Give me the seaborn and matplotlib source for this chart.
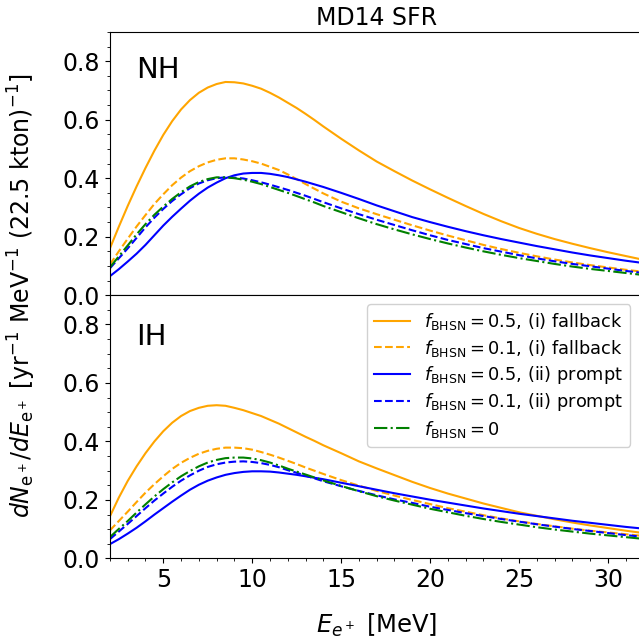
import seaborn as sns
import matplotlib.pyplot as plt
from matplotlib.ticker import AutoMinorLocator

# positron energy grid [MeV], finer around the peaks
energy = [2, 2.5, 3, 3.5, 4, 4.5, 5, 5.5, 6, 6.5, 7, 7.5, 8, 8.5, 9, 9.5, 10, 10.5, 11, 11.5, 12,
          12.5, 13, 13.5, 14, 15, 16, 17, 18, 19, 20, 21, 22, 23, 24, 25, 26, 27, 28, 29, 30, 31, 32]

# NH spectra
nh_fb05 = [0.160, 0.234, 0.305, 0.372, 0.435, 0.494, 0.548, 0.595, 0.635, 0.667, 0.692, 0.710, 0.722,
           0.729, 0.728, 0.724, 0.716, 0.706, 0.692, 0.676, 0.658, 0.640, 0.620, 0.599, 0.577,
           0.535, 0.495, 0.457, 0.424, 0.392, 0.362, 0.333, 0.305, 0.278, 0.253, 0.230, 0.210,
           0.192, 0.176, 0.161, 0.147, 0.134, 0.121]
nh_fb01 = [0.105, 0.150, 0.193, 0.235, 0.274, 0.312, 0.345, 0.376, 0.402, 0.424, 0.441, 0.454, 0.463,
           0.468, 0.468, 0.464, 0.458, 0.450, 0.439, 0.428, 0.413, 0.397, 0.380, 0.364, 0.348,
           0.320, 0.297, 0.277, 0.258, 0.239, 0.221, 0.204, 0.188, 0.172, 0.158, 0.145, 0.133,
           0.122, 0.112, 0.103, 0.095, 0.087, 0.080]
nh_pr05 = [0.065, 0.089, 0.115, 0.142, 0.172, 0.205, 0.238, 0.268, 0.296, 0.323, 0.347, 0.368, 0.385,
           0.400, 0.410, 0.416, 0.418, 0.418, 0.415, 0.410, 0.404, 0.396, 0.388, 0.379, 0.370,
           0.350, 0.329, 0.307, 0.287, 0.267, 0.250, 0.234, 0.219, 0.205, 0.192, 0.180, 0.168,
           0.157, 0.146, 0.136, 0.127, 0.118, 0.110]
nh_pr01 = [0.092, 0.126, 0.160, 0.196, 0.232, 0.265, 0.295, 0.322, 0.345, 0.366, 0.382, 0.393, 0.400,
           0.403, 0.402, 0.399, 0.393, 0.386, 0.378, 0.369, 0.360, 0.350, 0.340, 0.329, 0.318,
           0.297, 0.277, 0.258, 0.240, 0.222, 0.205, 0.189, 0.175, 0.161, 0.149, 0.137, 0.126,
           0.116, 0.107, 0.099, 0.091, 0.083, 0.076]
nh_f0 = [0.095, 0.133, 0.170, 0.208, 0.243, 0.275, 0.303, 0.329, 0.352, 0.372, 0.387, 0.397, 0.403,
         0.403, 0.400, 0.395, 0.388, 0.380, 0.370, 0.360, 0.350, 0.339, 0.328, 0.317, 0.305,
         0.284, 0.263, 0.243, 0.225, 0.208, 0.192, 0.177, 0.163, 0.150, 0.138, 0.127, 0.117,
         0.107, 0.098, 0.090, 0.083, 0.076, 0.069]

# IH spectra
ih_fb05 = [0.144, 0.208, 0.265, 0.315, 0.360, 0.400, 0.435, 0.464, 0.487, 0.504, 0.515, 0.522, 0.524,
           0.522, 0.515, 0.507, 0.497, 0.487, 0.474, 0.461, 0.446, 0.431, 0.416, 0.402, 0.387,
           0.360, 0.332, 0.308, 0.285, 0.262, 0.241, 0.222, 0.205, 0.188, 0.173, 0.158, 0.146,
           0.134, 0.123, 0.113, 0.104, 0.095, 0.087]
ih_fb01 = [0.096, 0.128, 0.160, 0.193, 0.225, 0.254, 0.281, 0.306, 0.327, 0.344, 0.358, 0.368, 0.375,
           0.379, 0.379, 0.377, 0.372, 0.364, 0.355, 0.345, 0.334, 0.323, 0.311, 0.300, 0.289,
           0.268, 0.249, 0.231, 0.215, 0.200, 0.186, 0.172, 0.160, 0.148, 0.137, 0.127, 0.118,
           0.110, 0.102, 0.095, 0.089, 0.083, 0.077]
ih_pr05 = [0.049, 0.066, 0.085, 0.105, 0.127, 0.150, 0.172, 0.194, 0.215, 0.235, 0.252, 0.266, 0.277,
           0.286, 0.292, 0.296, 0.298, 0.298, 0.297, 0.294, 0.290, 0.286, 0.281, 0.276, 0.271,
           0.259, 0.247, 0.235, 0.223, 0.212, 0.201, 0.191, 0.181, 0.171, 0.162, 0.153, 0.145,
           0.137, 0.129, 0.122, 0.115, 0.108, 0.102]
ih_pr01 = [0.066, 0.092, 0.118, 0.145, 0.172, 0.198, 0.222, 0.245, 0.266, 0.284, 0.300, 0.313, 0.322,
           0.328, 0.331, 0.332, 0.330, 0.326, 0.320, 0.312, 0.302, 0.293, 0.283, 0.274, 0.264,
           0.247, 0.231, 0.216, 0.202, 0.190, 0.177, 0.166, 0.155, 0.145, 0.135, 0.126, 0.117,
           0.109, 0.101, 0.094, 0.087, 0.080, 0.074]
ih_f0 = [0.073, 0.101, 0.128, 0.157, 0.185, 0.212, 0.237, 0.260, 0.281, 0.299, 0.315, 0.328, 0.337,
         0.343, 0.345, 0.345, 0.342, 0.336, 0.328, 0.318, 0.307, 0.297, 0.287, 0.277, 0.267,
         0.248, 0.230, 0.213, 0.198, 0.184, 0.170, 0.158, 0.146, 0.135, 0.125, 0.116, 0.107,
         0.099, 0.092, 0.085, 0.079, 0.073, 0.067]

labels = [r"$f_{\rm BHSN}=0.5$, (i) fallback",
          r"$f_{\rm BHSN}=0.1$, (i) fallback",
          r"$f_{\rm BHSN}=0.5$, (ii) prompt",
          r"$f_{\rm BHSN}=0.1$, (ii) prompt",
          r"$f_{\rm BHSN}=0$"]
colors = ["orange", "orange", "blue", "blue", "green"]
styles = ["-", "--", "-", "--", "-."]

fig = plt.figure(figsize=(6.39, 6.39), dpi=100)
ax1 = fig.add_axes([0.172, 0.538, 0.835, 0.412])
ax2 = fig.add_axes([0.172, 0.126, 0.835, 0.412], sharex=ax1)

for ax, series, tag, ty in [(ax1, [nh_fb05, nh_fb01, nh_pr05, nh_pr01, nh_f0], "NH", 0.91),
                            (ax2, [ih_fb05, ih_fb01, ih_pr05, ih_pr01, ih_f0], "IH", 0.895)]:
    for vals, lab, c, ls in zip(series, labels, colors, styles):
        sns.lineplot(x=energy, y=vals, ax=ax, color=c, linestyle=ls, linewidth=1.5, label=lab)
    ax.set_xlim(2, 32)
    ax.set_ylim(0, 0.9)
    ax.set_yticks([0.0, 0.2, 0.4, 0.6, 0.8])
    ax.xaxis.set_minor_locator(AutoMinorLocator())
    ax.yaxis.set_minor_locator(AutoMinorLocator())
    ax.tick_params(labelsize=17)
    ax.text(0.05, ty, tag, transform=ax.transAxes, fontsize=21, va="top")

ax1.get_legend().remove()
ax1.tick_params(labelbottom=False)
ax1.set_title("MD14 SFR", fontsize=17, pad=5)
ax2.legend(loc="upper right", fontsize=12.8, handlelength=2.0, labelspacing=0.3,
           framealpha=0.9, bbox_to_anchor=(0.992, 1.0))
ax2.set_xticks([5, 10, 15, 20, 25, 30])
ax2.set_xlabel(r"$E_{e^+}$ [MeV]", fontsize=17.5, labelpad=14)
fig.text(0.035, 0.538, r"$dN_{\mathrm{e}^+}/dE_{\mathrm{e}^+}$ [yr$^{-1}$ MeV$^{-1}$ (22.5 kton)$^{-1}$]",
         rotation=90, fontsize=17, ha="center", va="center")

fig.savefig("out.png", dpi=100)
